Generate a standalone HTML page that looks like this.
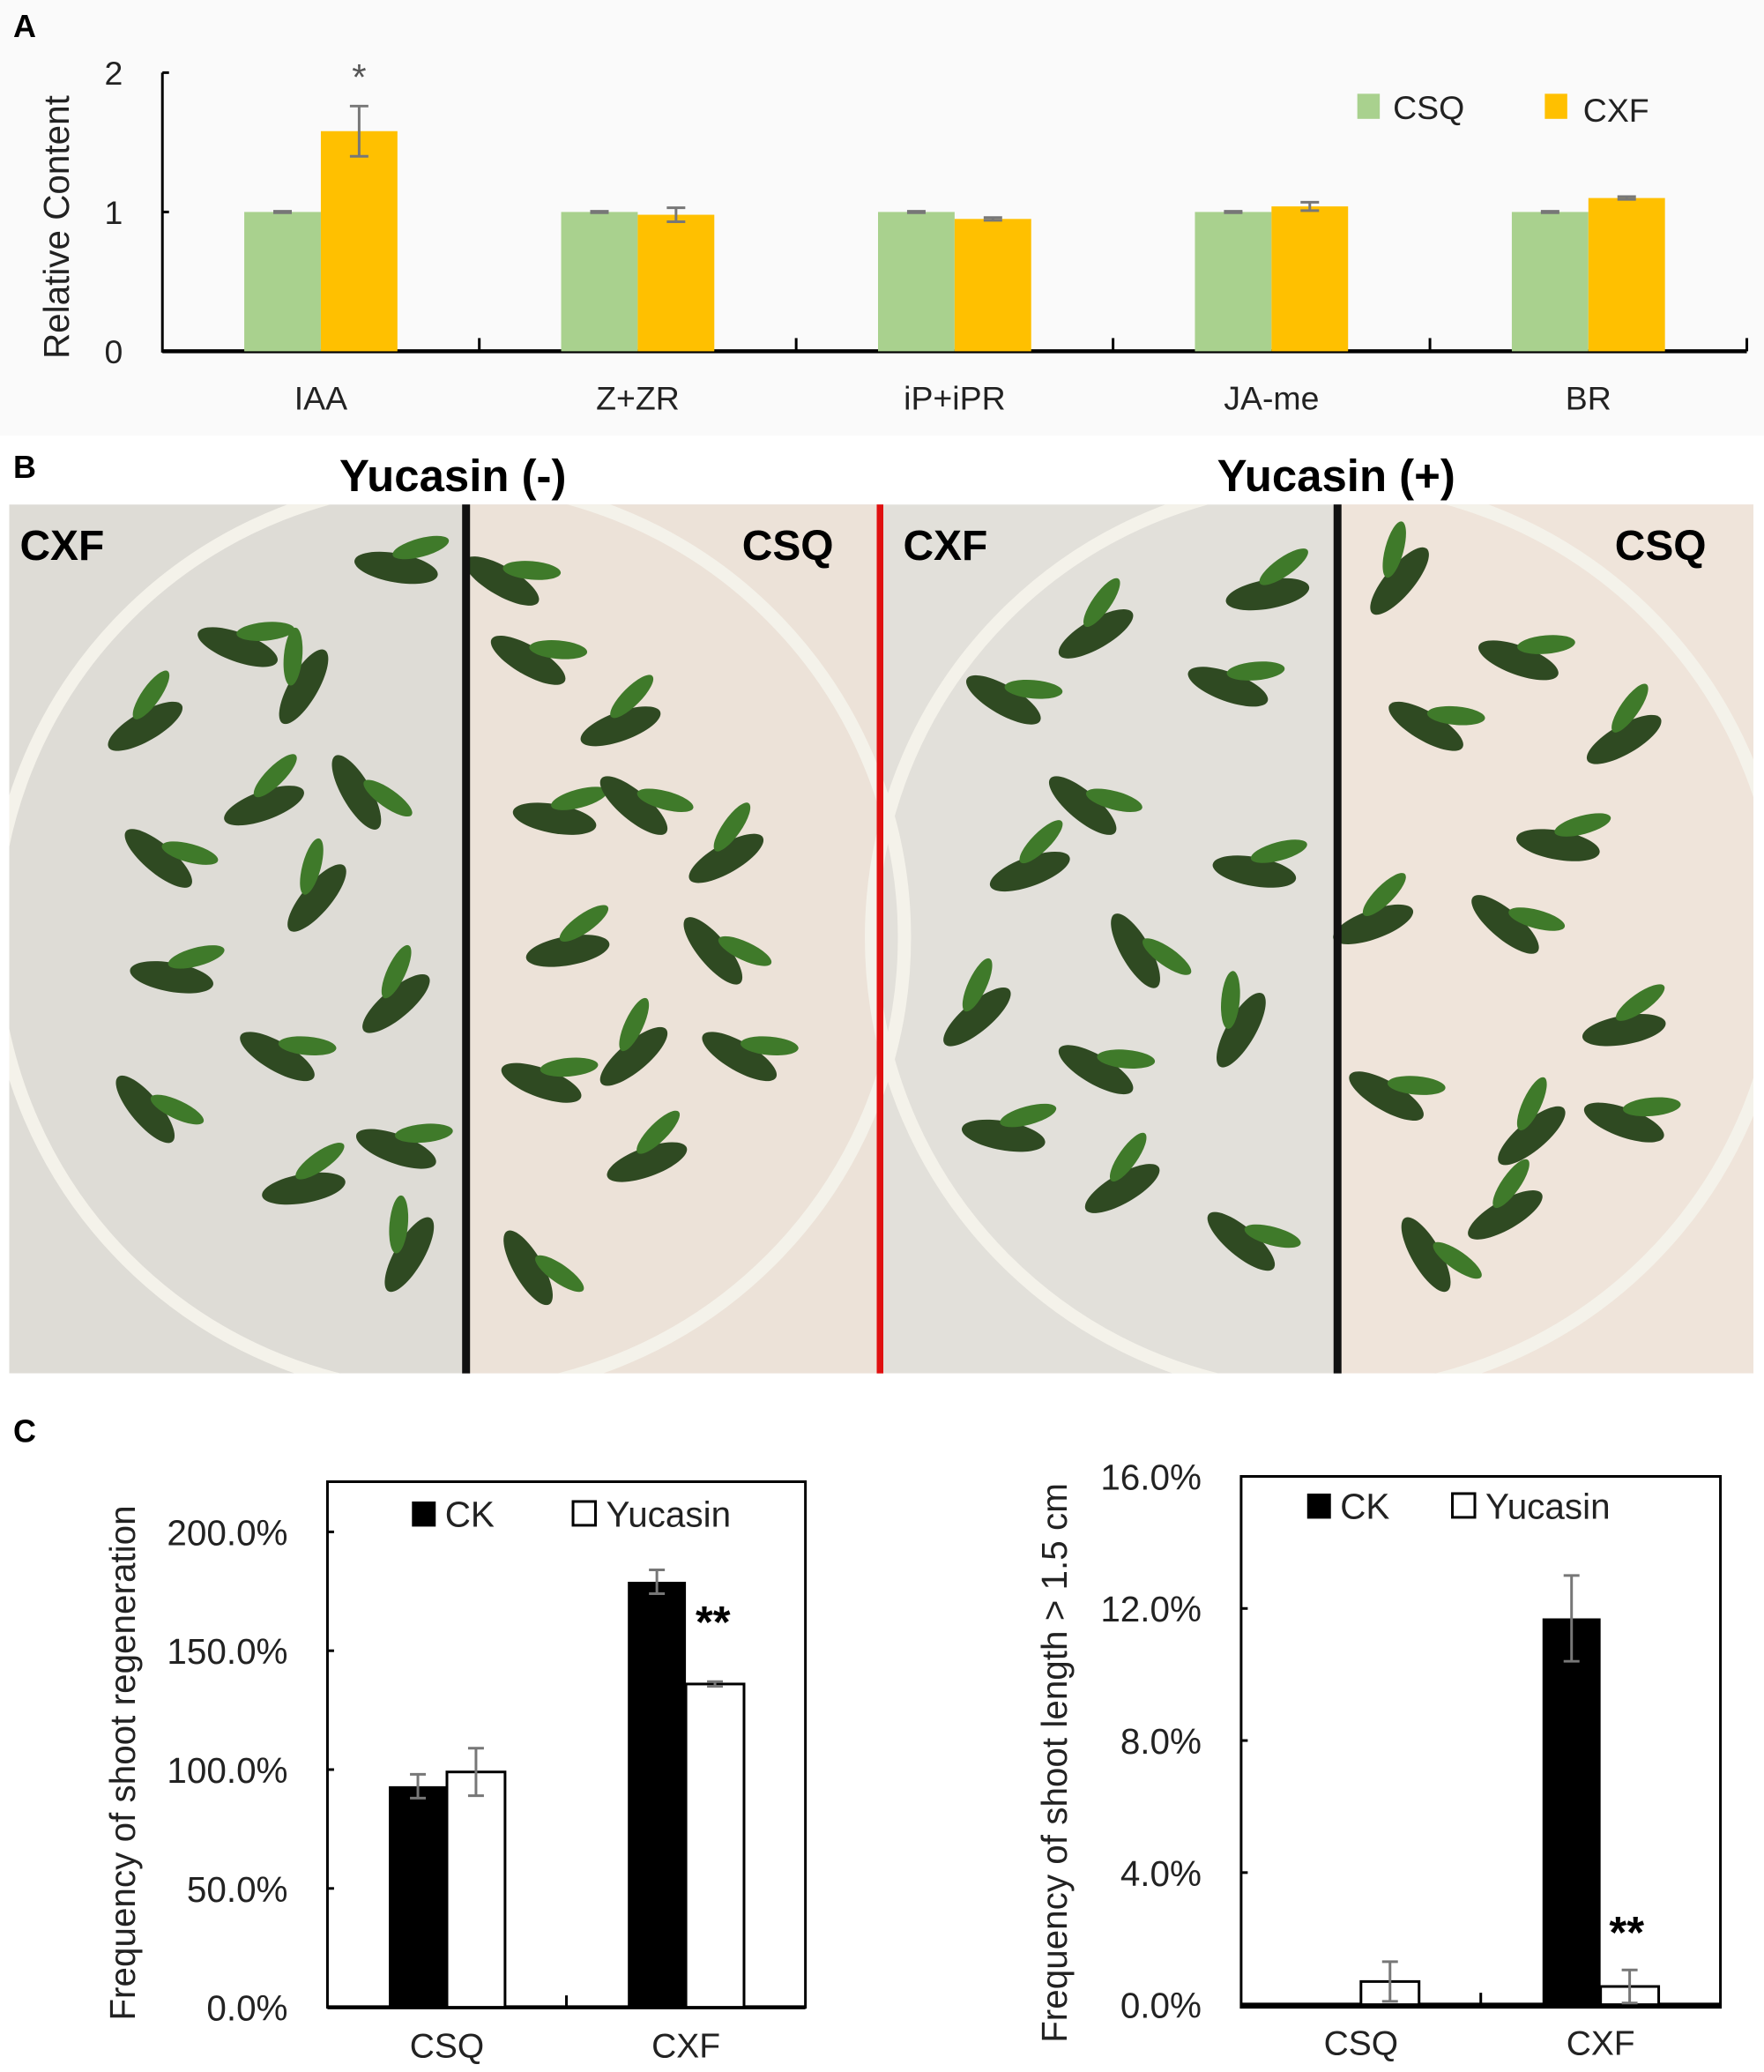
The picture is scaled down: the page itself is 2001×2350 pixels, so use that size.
<!DOCTYPE html>
<html><head><meta charset="utf-8"><style>
html,body{margin:0;padding:0;background:#fff}
svg{display:block}
text{font-family:"Liberation Sans",Arial,sans-serif}
</style></head><body>
<svg id="fig" width="2001" height="2350" viewBox="0 0 1336 1569" xmlns="http://www.w3.org/2000/svg">
<defs><clipPath id="photoClip"><rect x="7" y="382" width="1321" height="658"/></clipPath></defs>
<rect width="1336" height="1569" fill="#fff"/>
<!-- Panel A -->
<g id="panelA">
<rect x="0" y="0" width="1336" height="330" fill="#fafafa"/>
<text x="10" y="28" font-size="24" font-weight="bold">A</text>
<text transform="translate(52,172) rotate(-90)" text-anchor="middle" font-size="27" fill="#222">Relative Content</text>
<g id="aAxes"></g><g id="aBars"></g>
<rect x="1028" y="71" width="17" height="19" fill="#a9d18e"/>
<text x="1055" y="90" font-size="25" fill="#222">CSQ</text>
<rect x="1170" y="71" width="17" height="19" fill="#ffc000"/>
<text x="1199" y="92" font-size="25" fill="#222">CXF</text>
</g>
<!-- Panel B -->
<g>
<text x="10" y="362" font-size="24" font-weight="bold">B</text>
<text x="343" y="372" text-anchor="middle" font-size="34" font-weight="bold">Yucasin (-)</text>
<text x="1012" y="372" text-anchor="middle" font-size="34" font-weight="bold">Yucasin (+)</text>
<g clip-path="url(#photoClip)">
<rect x="7" y="382" width="660" height="658" fill="#dedcd6"/>
<rect x="667" y="382" width="661" height="658" fill="#e2e0da"/>
<rect x="355" y="382" width="312" height="658" fill="#ece2d8"/>
<rect x="1015" y="382" width="313" height="658" fill="#efe4da"/>
<circle cx="340" cy="710" r="345" fill="none" stroke="#f4f2ea" stroke-width="10"/>
<circle cx="1005" cy="710" r="345" fill="none" stroke="#f4f2ea" stroke-width="10"/>
<g id="plants"></g>
</g>
<rect x="350" y="382" width="6" height="658" fill="#111"/>
<rect x="1010" y="382" width="6" height="658" fill="#111"/>
<rect x="664" y="382" width="5" height="658" fill="#e01010"/>
<text x="15" y="424" font-size="32" font-weight="bold">CXF</text>
<text x="562" y="424" font-size="32" font-weight="bold">CSQ</text>
<text x="684" y="424" font-size="32" font-weight="bold">CXF</text>
<text x="1223" y="424" font-size="32" font-weight="bold">CSQ</text>
</g>
<!-- Panel C -->
<text x="10" y="1092" font-size="24" font-weight="bold">C</text>
<g id="c1"></g>
<g id="c2"></g>
</svg>
<script>
const NS="http://www.w3.org/2000/svg";
function mk(p,tag,attrs){const e=document.createElementNS(NS,tag);for(const k in attrs)e.setAttribute(k,attrs[k]);p.appendChild(e);return e;}

// Panel A data
const aCategories=["IAA","Z+ZR","iP+iPR","JA-me","BR"];
const aCSQ=[1,1,1,1,1];
const aCSQerr=[0.005,0.005,0.005,0.005,0.005];
const aCXF=[1.58,0.98,0.95,1.04,1.10];
const aCXFerr=[0.18,0.05,0.01,0.03,0.01];
const aTicks=[0,1,2];

(function(){
 const ax=document.getElementById('aAxes'),bg=document.getElementById('aBars');
 const x0=123,x1=1323,y0=266,yTop=55;
 const y=v=>y0-(y0-yTop)*v/2;
 const step=(x1-x0)/aCategories.length;
 mk(ax,'line',{x1:x0,y1:y(2),x2:x0,y2:y0+1,stroke:'#000','stroke-width':2});
 mk(ax,'line',{x1:x0,y1:y0,x2:x1,y2:y0,stroke:'#000','stroke-width':3});
 aTicks.forEach(t=>{mk(ax,'line',{x1:x0,y1:y(t),x2:x0+5,y2:y(t),stroke:'#000','stroke-width':2});
  const tx=mk(ax,'text',{x:x0-30,y:y(t)+9,'text-anchor':'end','font-size':25,fill:'#222'});tx.textContent=t;
  
  });
 aCategories.forEach((c,i)=>{
  const cx=x0+step*(i+0.5);
  mk(ax,'line',{x1:x0+step*(i+1),y1:y0,x2:x0+step*(i+1),y2:y0-10,stroke:'#000','stroke-width':2});
  const t=mk(ax,'text',{x:cx,y:y0+44,'text-anchor':'middle','font-size':25,fill:'#222'});t.textContent=c;
  
  
  const w=58;
  const b1=mk(bg,'rect',{x:cx-w,y:y(aCSQ[i]),width:w,height:y0-y(aCSQ[i]),fill:'#a9d18e'});
  
  
  const b2=mk(bg,'rect',{x:cx,y:y(aCXF[i]),width:w,height:y0-y(aCXF[i]),fill:'#ffc000'});
  
  
  [[cx-w/2,aCSQ[i],aCSQerr[i]],[cx+w/2,aCXF[i],aCXFerr[i]]].forEach(([ex,v,e])=>{
   const g=mk(bg,'g',{stroke:'#777','stroke-width':2});
   
   
   mk(g,'line',{x1:ex,y1:y(v+e),x2:ex,y2:y(v-e)});
   mk(g,'line',{x1:ex-7,y1:y(v+e),x2:ex+7,y2:y(v+e)});
   mk(g,'line',{x1:ex-7,y1:y(v-e),x2:ex+7,y2:y(v-e)});
  });
 });
 const st=mk(bg,'text',{x:272,y:68,'text-anchor':'middle','font-size':28,fill:'#555'});st.textContent='*';
 
 
})();

// Panel C data
const cCategories=["CSQ","CXF"];
const c1CK=[93,179];const c1CKerr=[5,5];
const c1Yuc=[99,136];const c1YucErr=[10,1];
const c1Ticks=[0,50,100,150,200];
const c2CK=[0,11.7];const c2CKerr=[0,1.3];
const c2Yuc=[0.7,0.55];const c2YucErr=[0.6,0.5];
const c2Ticks=[0,4,8,12,16];

function cChart(g,o){
 const {bx0,bx1,by0,by1,y0,ypx,max,ticks,fmt,ck,cke,yu,yue,title,tx,lx,stars}=o;
 const y=v=>y0-ypx*v;
 mk(g,'rect',{x:bx0,y:by0,width:bx1-bx0,height:by1-by0,fill:'#fff',stroke:'#000','stroke-width':2});
 mk(g,'line',{x1:bx0,y1:y0,x2:bx1,y2:y0,stroke:'#000','stroke-width':3});
 ticks.forEach(t=>{mk(g,'line',{x1:bx0,y1:y(t),x2:bx0+5,y2:y(t),stroke:'#000','stroke-width':2});
  const e=mk(g,'text',{x:bx0-30,y:y(t)+10,'text-anchor':'end','font-size':27,fill:'#222'});e.textContent=fmt(t);
  
  });
 const step=(bx1-bx0)/2;
 mk(g,'line',{x1:bx0+step,y1:y0,x2:bx0+step,y2:y0-9,stroke:'#000','stroke-width':2});
 cCategories.forEach((c,i)=>{
  const cx=bx0+step*(i+0.5);
  const t=mk(g,'text',{x:cx,y:y0+38,'text-anchor':'middle','font-size':26,fill:'#222'});t.textContent=c;
  
  
  const w=44;
  if(ck[i]>0){const b=mk(g,'rect',{x:cx-w,y:y(ck[i]),width:w,height:y0-y(ck[i]),fill:'#000'});
   
   }
  const b2=mk(g,'rect',{x:cx,y:y(yu[i]),width:w,height:y0-y(yu[i]),fill:'#fff',stroke:'#000','stroke-width':2});
  
  
  [[cx-w/2,ck[i],cke[i]],[cx+w/2,yu[i],yue[i]]].forEach(([ex,v,e])=>{
   if(e<=0)return;
   const eg=mk(g,'g',{stroke:'#777','stroke-width':2});
   
   
   mk(eg,'line',{x1:ex,y1:y(v+e),x2:ex,y2:y(Math.max(0,v-e))});
   mk(eg,'line',{x1:ex-6,y1:y(v+e),x2:ex+6,y2:y(v+e)});
   mk(eg,'line',{x1:ex-6,y1:y(v-e),x2:ex+6,y2:y(v-e)});
  });
 });
 const s=mk(g,'text',{x:stars[0],y:stars[1],'text-anchor':'middle','font-size':34,'font-weight':'bold'});s.textContent='**';
 
 
 const lt=mk(g,'text',{transform:`translate(${tx},1335) rotate(-90)`,'text-anchor':'middle','font-size':27,fill:'#222'});lt.textContent=title;
 
 
 const ly=lx[2];
 const s1=mk(g,'rect',{x:lx[0],y:ly,width:18,height:19,fill:'#000'});
 
 
 const l1=mk(g,'text',{x:lx[0]+25,y:ly+19,'font-size':27,fill:'#222'});l1.textContent='CK';
 
 
 const s2=mk(g,'rect',{x:lx[1],y:ly,width:17,height:18,fill:'#fff',stroke:'#000','stroke-width':2});
 
 
 const l2=mk(g,'text',{x:lx[1]+25,y:ly+19,'font-size':27,fill:'#222'});l2.textContent='Yucasin';
 
 
}
cChart(document.getElementById('c1'),{bx0:248,bx1:610,by0:1122,by1:1520,y0:1520,ypx:1.8,ticks:c1Ticks,fmt:t=>t.toFixed(1)+'%',
 ck:c1CK,cke:c1CKerr,yu:c1Yuc,yue:c1YucErr,title:'Frequency of shoot regeneration',tx:102,lx:[312,434,1137],stars:[540,1240]});
cChart(document.getElementById('c2'),{bx0:940,bx1:1303,by0:1118,by1:1520,y0:1518,ypx:25,ticks:c2Ticks,fmt:t=>t.toFixed(1)+'%',
 ck:c2CK,cke:c2CKerr,yu:c2Yuc,yue:c2YucErr,title:'Frequency of shoot length > 1.5 cm',tx:808,lx:[990,1100,1131],stars:[1232,1475]});

// Plantlets (decorative photo)
const plants=[[110,550,-30],[180,490,20],[230,520,-60],[300,430,10],[380,440,30],[120,650,40],[200,610,-20],[270,600,60],[240,680,-50],[130,740,10],[210,800,30],[300,760,-40],[110,840,50],[230,900,-10],[300,870,20],[310,950,-60],[400,500,30],[470,550,-20],[420,620,10],[480,610,40],[550,650,-30],[540,720,50],[430,720,-10],[410,820,20],[480,800,-40],[560,800,30],[400,960,60],[490,880,-20],[760,530,30],[830,480,-30],[930,520,20],[960,450,-10],[820,610,40],[780,660,-20],[860,720,60],[950,660,10],[740,770,-40],[830,810,30],[940,780,-60],[760,860,10],[850,900,-30],[940,940,40],[1060,440,-50],[1150,500,20],[1230,560,-30],[1080,550,30],[1180,640,10],[1040,700,-20],[1140,700,40],[1230,780,-10],[1050,830,30],[1160,860,-40],[1230,850,20],[1080,950,60],[1140,920,-30]];
const pg=document.getElementById('plants');
plants.forEach(([x,yy,r])=>{
 const g=mk(pg,'g',{transform:`translate(${x},${yy}) rotate(${r})`});
 
 
 mk(g,'ellipse',{cx:0,cy:0,rx:32,ry:11,fill:'#2f4a22'});
 mk(g,'ellipse',{cx:22,cy:-10,rx:22,ry:7,fill:'#3f7a2a',transform:'rotate(-25)'});
});
</script>
</body></html>
